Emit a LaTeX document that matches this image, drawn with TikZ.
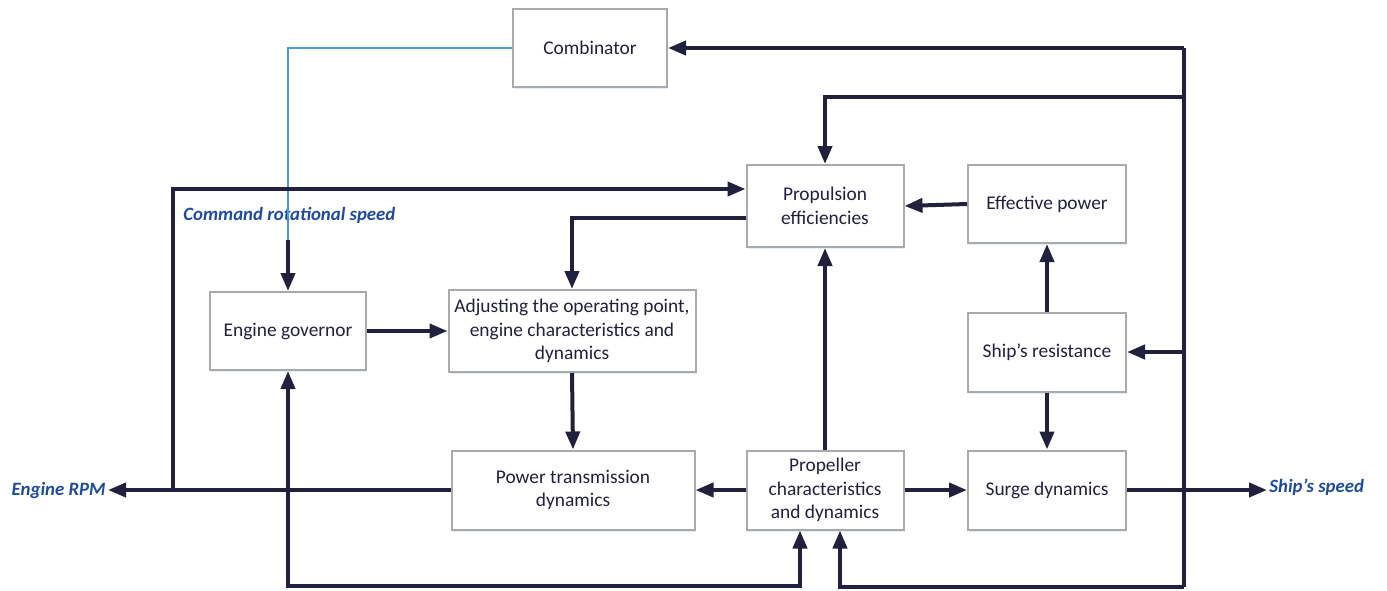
\documentclass[tikz,border=0pt]{standalone}
\usepackage{fontspec}
\setmainfont{Carlito}
\usepackage{xcolor}
\usepackage{tikz}
\usetikzlibrary{arrows.meta,calc,shadows}
\definecolor{navy}{RGB}{33,33,62}
\definecolor{boxgray}{RGB}{170,170,170}
\definecolor{cmdblue}{RGB}{74,155,216}
\definecolor{labblue}{RGB}{30,75,155}
\tikzset{
  block/.style={draw=boxgray,line width=1pt,fill=white,align=center,text=navy,
    font=\fontsize{9.7}{11.7}\selectfont,inner sep=2pt,
    drop shadow={shadow xshift=0.6pt,shadow yshift=-1pt,fill=cmdblue!25,opacity=.6}},
  flow/.style={draw=navy,line width=2pt,-{Triangle[length=9pt,width=7pt]}},
  flowboth/.style={draw=navy,line width=2pt,{Triangle[length=9pt,width=7pt]}-{Triangle[length=9pt,width=7pt]}},
  bus/.style={draw=navy,line width=2pt},
  cmd/.style={draw=cmdblue,line width=.7pt},
  sig/.style={text=labblue,font=\fontsize{9.4}{11}\selectfont\bfseries\itshape,inner sep=1pt}
}
\begin{document}
\begin{tikzpicture}[x=0.5pt,y=-0.5pt]
    \useasboundingbox (0,0) rectangle (1387,590);
    % blocks
    \node[block,minimum width=77pt,minimum height=39pt] (comb) at (590,48) {Combinator};
    \node[block,minimum width=78.5pt,minimum height=41pt] (prop) at (825,206) {Propulsion\\efficiencies};
    \node[block,minimum width=79pt,minimum height=39pt] (eff) at (1047,204) {Effective power};
    \node[block,minimum width=78pt,minimum height=39pt] (gov) at (288,331) {Engine governor};
    \node[block,minimum width=123.5pt,minimum height=41pt] (adj) at (572,331) {Adjusting the operating point,\\engine characteristics and\\dynamics};
    \node[block,minimum width=79pt,minimum height=39.5pt] (res) at (1047,352) {Ship's resistance};
    \node[block,minimum width=121.5pt,minimum height=39.5pt] (pwr) at (573,490) {Power transmission\\dynamics};
    \node[block,minimum width=78.5pt,minimum height=39.5pt] (pch) at (825,490) {Propeller\\characteristics\\and dynamics};
    \node[block,minimum width=79pt,minimum height=39.5pt] (surge) at (1047,490) {Surge dynamics};
    % signal labels
    \node[sig,anchor=east] (rpm) at (108,490) {Engine RPM};
    \node[sig,anchor=west] (speed) at (1267,487) {Ship's speed};
    \node[sig,anchor=west] (cmdtxt) at (181,215) {Command rotational speed};
    % corners of the feedback bus
    \coordinate (bt) at (1184,48);
    \coordinate (bk1) at (1184,97);
    \coordinate (bk2) at (1184,352);
    \coordinate (bk3) at (1184,587);
    \coordinate (tap) at (173,490);
    \coordinate (cmdk) at (288,240);
    % command path
    \draw[cmd] (comb.west) -| (cmdk);
    \draw[flow] (cmdk) -- (gov.north);
    % forward path
    \draw[flow] (gov.east) -- (adj.west);
    \draw[flow] (adj.south) -- (pwr.north);
    \draw[flow] (pch.west) -- (pwr.east);
    \draw[flow] (pch.east) -- (surge.west);
    \draw[flow] (pch.north) -- (prop.south);
    \draw[flow] (eff.west) -- (prop.east);
    \draw[flow] (res.north) -- (eff.south);
    \draw[flow] (res.south) -- (surge.north);
    \draw[flow] ($(prop.west)+(0,12)$) -| (adj.north);
    % outputs
    \draw[flow] (pwr.west) -- (rpm.east |- pwr.west);
    \draw[flow] (tap) |- ($(prop.west)+(0,-17)$);
    \draw[flow] (surge.east) -- (speed.west |- surge.east);
    % ship's speed feedback
    \draw[bus] (bk3) -- (bt);
    \draw[flow] (bt) -- (comb.east);
    \draw[flow] (bk1) -| (prop.north);
    \draw[flow] (bk2) -- (res.east);
    \draw[flow] (bk3) -| ($(pch.south)+(15,0)$);
    % engine speed feedback
    \draw[flowboth] (gov.south) -- ++(0,215) -| ($(pch.south)+(-25,0)$);
\end{tikzpicture}
\end{document}
